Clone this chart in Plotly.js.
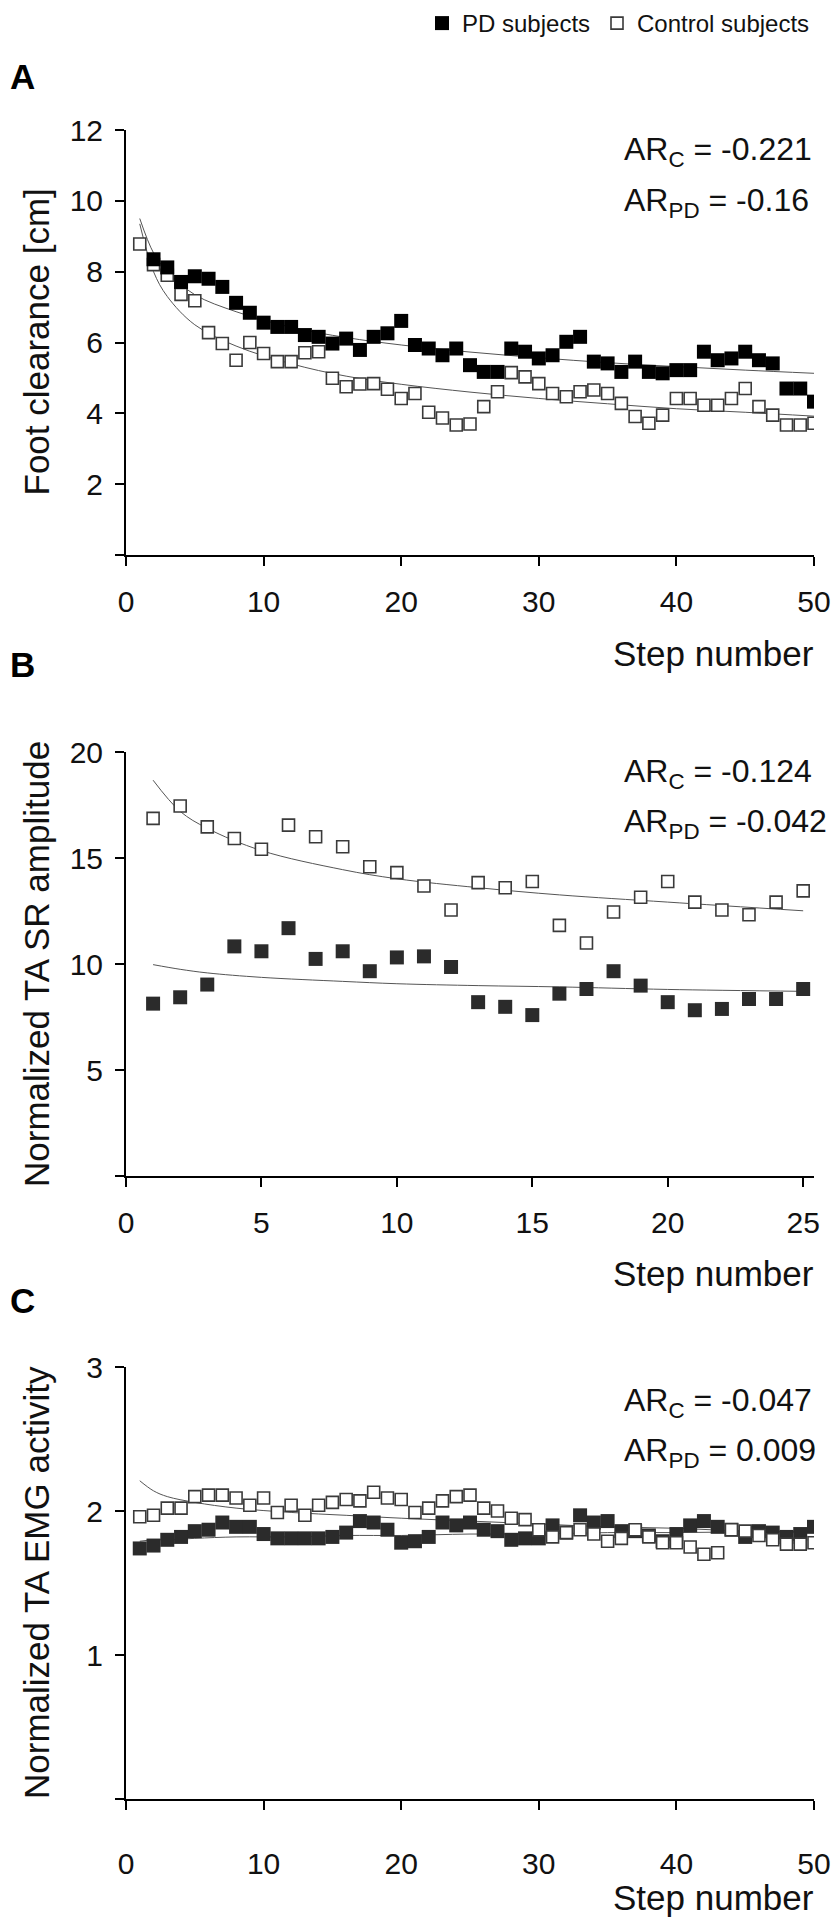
<!DOCTYPE html>
<html>
<head>
<meta charset="utf-8">
<script src="https://cdn.plot.ly/plotly-3.0.1.min.js"></script>
<style>
html,body{margin:0;padding:0;background:#fff;}
#chart{width:835px;height:1919px;}
</style>
</head>
<body>
<div id="chart"></div>
<script>
// ---------------- DATA ----------------
// Panel A: foot clearance [cm]
const stepsA = [1,2,3,4,5,6,7,8,9,10,11,12,13,14,15,16,17,18,19,20,21,22,23,24,25,26,27,28,29,30,31,32,33,34,35,36,37,38,39,40,41,42,43,44,45,46,47,48,49,50];
const controlA = [8.78,8.20,7.90,7.36,7.18,6.28,5.97,5.50,6.00,5.69,5.46,5.46,5.71,5.74,4.99,4.75,4.83,4.84,4.68,4.42,4.56,4.03,3.87,3.67,3.70,4.19,4.61,5.15,5.03,4.84,4.56,4.47,4.61,4.66,4.56,4.28,3.91,3.72,3.95,4.42,4.42,4.23,4.23,4.42,4.70,4.19,3.95,3.67,3.67,3.72];
const pdA = [null,8.35,8.12,7.71,7.87,7.80,7.57,7.12,6.84,6.56,6.44,6.44,6.21,6.16,5.97,6.11,5.79,6.16,6.26,6.61,5.93,5.83,5.64,5.83,5.36,5.17,5.17,5.83,5.74,5.55,5.64,6.02,6.16,5.46,5.41,5.17,5.46,5.17,5.13,5.22,5.22,5.74,5.50,5.55,5.74,5.50,5.41,4.70,4.70,4.33];
const fitStepsA = [1,2,3,5,8,12,16,20,25,30,35,40,45,50];
const controlFitA = [9.35,8.00,7.30,6.50,5.90,5.40,5.05,4.82,4.60,4.42,4.27,4.13,4.03,3.92];
const pdFitA = [9.50,8.53,8.00,7.35,6.87,6.43,6.14,5.93,5.73,5.57,5.43,5.32,5.22,5.13];
const ticksA_y = [2,4,6,8,10,12];

// Panel B: normalized TA SR amplitude
const stepsB = [1,2,3,4,5,6,7,8,9,10,11,12,13,14,15,16,17,18,19,20,21,22,23,24,25];
const controlB = [16.87,17.45,16.47,15.92,15.41,16.55,16.00,15.53,14.59,14.31,13.68,12.55,13.84,13.60,13.89,11.82,10.99,12.45,13.15,13.89,12.92,12.55,12.32,12.92,13.45];
const pdB = [8.13,8.43,9.03,10.83,10.60,11.69,10.24,10.60,9.66,10.31,10.36,9.86,8.20,7.98,7.59,8.60,8.82,9.66,8.98,8.20,7.82,7.88,8.35,8.35,8.82];
const fitStepsB = [1,2,3,5,8,10,13,16,20,25];
const controlFitB = [18.67,17.20,16.40,15.35,14.45,14.02,13.60,13.26,12.92,12.51];
const pdFitB = [9.97,9.75,9.58,9.37,9.18,9.07,8.98,8.92,8.80,8.71];
const ticksB_x = [0,5,10,15,20,25];
const ticksB_y = [5,10,15,20];

// Panel C: normalized TA EMG activity
const stepsC = stepsA;
const controlC = [1.96,1.97,2.02,2.02,2.10,2.11,2.11,2.09,2.04,2.09,1.99,2.04,1.97,2.04,2.06,2.08,2.07,2.13,2.09,2.08,1.99,2.02,2.07,2.10,2.11,2.02,2.00,1.95,1.94,1.87,1.82,1.85,1.87,1.84,1.79,1.81,1.87,1.82,1.78,1.78,1.75,1.70,1.71,1.87,1.86,1.83,1.80,1.77,1.77,1.78];
const pdC = [1.74,1.76,1.80,1.82,1.86,1.87,1.92,1.89,1.89,1.84,1.81,1.81,1.81,1.81,1.82,1.85,1.93,1.92,1.87,1.78,1.79,1.82,1.92,1.90,1.92,1.87,1.86,1.80,1.81,1.81,1.90,1.85,1.97,1.92,1.93,1.86,1.86,1.83,1.79,1.84,1.90,1.93,1.89,1.87,1.82,1.86,1.85,1.82,1.84,1.89];
const fitStepsC = [1,2,3,5,8,12,16,20,25,30,35,40,45,50];
const controlFitC = [2.21,2.14,2.10,2.06,2.02,1.99,1.97,1.95,1.93,1.91,1.89,1.88,1.86,1.85];
const pdFitC = [1.79,1.80,1.80,1.81,1.82,1.82,1.83,1.83,1.84,1.84,1.85,1.85,1.855,1.86];
const ticksC_y = [1,2,3];

const ticksX50 = [0,10,20,30,40,50];
const originTick = [0];

const seriesNames = ['PD subjects','Control subjects'];
const arTexts = [
  ['AR<sub>C</sub> = -0.221','AR<sub>PD</sub> = -0.16'],
  ['AR<sub>C</sub> = -0.124','AR<sub>PD</sub> = -0.042'],
  ['AR<sub>C</sub> = -0.047','AR<sub>PD</sub> = 0.009']
];
const yTitles = ['Foot clearance [cm]','Normalized TA SR amplitude','Normalized TA EMG activity'];
const panelLetters = ['A','B','C'];
const xTitle = 'Step number';

// ---------------- LAYOUT HELPERS ----------------
const W = 835, H = 1919;
const FONT = 'Liberation Sans, Arial, Helvetica, sans-serif';
const px = v => v / W;
const py = v => 1 - v / H;

const openMarker = {symbol:'square', size:12, color:'#ffffff', line:{color:'#3a3a3a', width:1.6}};
const filledA = {symbol:'square', size:14, color:'#000000', line:{width:0}};
const filledBC = {symbol:'square', size:14, color:'#2b2b2b', line:{width:0}};
const fitLine = {color:'#555555', width:1, shape:'spline'};

function fit(x, y, xa, ya){
  return {x:x, y:y, xaxis:xa, yaxis:ya, mode:'lines', line:fitLine, showlegend:false, hoverinfo:'skip'};
}
function pts(x, y, xa, ya, marker, name, show, legendId){
  const t = {x:x, y:y, xaxis:xa, yaxis:ya, mode:'markers', marker:marker, name:name, showlegend:show};
  if(legendId) t.legend = legendId;
  return t;
}

const traces = [
  fit(fitStepsA, controlFitA, 'x', 'y'),
  fit(fitStepsA, pdFitA, 'x', 'y'),
  pts(stepsA, controlA, 'x', 'y', openMarker, seriesNames[1], true, 'legend2'),
  pts(stepsA, pdA, 'x', 'y', filledA, seriesNames[0], true, 'legend'),

  fit(fitStepsB, controlFitB, 'x2', 'y2'),
  fit(fitStepsB, pdFitB, 'x2', 'y2'),
  pts(stepsB, controlB, 'x2', 'y2', openMarker, seriesNames[1], false),
  pts(stepsB, pdB, 'x2', 'y2', filledBC, seriesNames[0], false),

  fit(fitStepsC, controlFitC, 'x3', 'y3'),
  fit(fitStepsC, pdFitC, 'x3', 'y3'),
  pts(stepsC, pdC, 'x3', 'y3', filledBC, seriesNames[0], false),
  pts(stepsC, controlC, 'x3', 'y3', openMarker, seriesNames[1], false)
];

function xAxis(domain, range, tickvals, anchor, standoff){
  return {domain:domain, range:range, anchor:anchor, tickmode:'array', tickvals:tickvals,
    showline:true, linecolor:'#000', linewidth:2, ticks:'outside', ticklen:9, tickwidth:2, tickcolor:'#000',
    tickfont:{size:30, family:FONT, color:'#111'}, ticklabelstandoff:standoff,
    showgrid:false, zeroline:false, fixedrange:true};
}
function yAxis(domain, range, tickvals, anchor){
  return {domain:domain, range:range, anchor:anchor, tickmode:'array', tickvals:tickvals,
    showline:true, linecolor:'#000', linewidth:2, ticks:'outside', ticklen:9, tickwidth:2, tickcolor:'#000',
    minor:{tickmode:'array', tickvals:originTick, ticks:'outside', ticklen:9, tickwidth:2, tickcolor:'#000', showgrid:false},
    tickfont:{size:30, family:FONT, color:'#111'}, ticklabelstandoff:6,
    showgrid:false, zeroline:false, fixedrange:true};
}

const xDom = [px(126), px(814)];
const panels = [
  {top:130, bottom:555, letterY:76, arY:[152,202], titleY:653},
  {top:752, bottom:1176, letterY:664, arY:[773,823], titleY:1273},
  {top:1367, bottom:1799, letterY:1300, arY:[1402,1452], titleY:1897}
];

const annotations = [];
panels.forEach((p, i) => {
  annotations.push({text:'<b>'+panelLetters[i]+'</b>', xref:'paper', yref:'paper', x:px(22), y:py(p.letterY),
    xanchor:'center', yanchor:'middle', showarrow:false, font:{size:35, family:FONT, color:'#000'}});
  annotations.push({text:arTexts[i][0], xref:'paper', yref:'paper', x:px(622), y:py(p.arY[0]),
    xanchor:'left', yanchor:'middle', showarrow:false, font:{size:32, family:FONT, color:'#111'}});
  annotations.push({text:arTexts[i][1], xref:'paper', yref:'paper', x:px(622), y:py(p.arY[1]),
    xanchor:'left', yanchor:'middle', showarrow:false, font:{size:32, family:FONT, color:'#111'}});
  annotations.push({text:yTitles[i], xref:'paper', yref:'paper', x:px(36), y:py((p.top+p.bottom)/2),
    xanchor:'center', yanchor:'middle', textangle:-90, showarrow:false, font:{size:35, family:FONT, color:'#111'}});
  annotations.push({text:xTitle, xref:'paper', yref:'paper', x:px(816), y:py(p.titleY),
    xanchor:'right', yanchor:'middle', showarrow:false, font:{size:35, family:FONT, color:'#111'}});
});

const legendStyle = {orientation:'h', xanchor:'left', y:py(1), yanchor:'top',
  font:{size:24, family:FONT, color:'#111'}, bgcolor:'rgba(0,0,0,0)', itemwidth:30};

const layout = {
  width:W, height:H,
  margin:{l:0, r:0, t:0, b:0},
  paper_bgcolor:'#fff', plot_bgcolor:'#fff',
  font:{family:FONT, color:'#111'},
  showlegend:true,
  legend:Object.assign({x:px(422)}, legendStyle),
  legend2:Object.assign({x:px(597)}, legendStyle),
  xaxis: xAxis(xDom, [0,50], ticksX50, 'y', 10),
  yaxis: yAxis([py(panels[0].bottom), py(panels[0].top)], [0,12], ticksA_y, 'x'),
  xaxis2: xAxis(xDom, [0,25.4], ticksB_x, 'y2', 10),
  yaxis2: yAxis([py(panels[1].bottom), py(panels[1].top)], [0,20], ticksB_y, 'x2'),
  xaxis3: xAxis(xDom, [0,50], ticksX50, 'y3', 28),
  yaxis3: yAxis([py(panels[2].bottom), py(panels[2].top)], [0,3], ticksC_y, 'x3'),
  annotations:annotations
};

Plotly.newPlot('chart', traces, layout, {staticPlot:true, displayModeBar:false});
</script>
</body>
</html>
